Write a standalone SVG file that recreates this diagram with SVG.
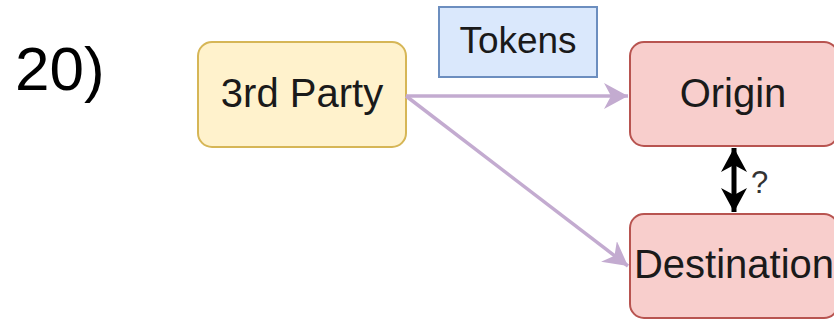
<svg xmlns="http://www.w3.org/2000/svg" width="834" height="320" viewBox="0 0 834 320">
<style>
text{font-family:"Liberation Sans",Arial,sans-serif;fill:#1a1a1a;}
.lbl{font-size:40px;text-anchor:middle;}
.yellow{fill:#fff2cc;stroke:#d6b656;stroke-width:2;}
.red{fill:#f8cecc;stroke:#b85450;stroke-width:2;}
.blue{fill:#dae8fc;stroke:#6c8ebf;stroke-width:2;}
.purple{stroke:#c3abd0;stroke-width:3.5;fill:none;}
</style>
<defs>
<marker id="ap" viewBox="0 0 24 26" refX="24" refY="13" markerWidth="24" markerHeight="26" markerUnits="userSpaceOnUse" orient="auto">
<path d="M0,0 L24,13 L0,26 L7,13 Z" fill="#c3abd0"/>
</marker>
<marker id="ab" viewBox="0 0 24 26" refX="24" refY="13" markerWidth="24" markerHeight="26" markerUnits="userSpaceOnUse" orient="auto-start-reverse">
<path d="M0,0 L24,13 L0,26 L7,13 Z" fill="#000"/>
</marker>
</defs>
<text x="15" y="90" style="font-size:62px;fill:#000">20)</text>
<g id="tokens"><rect class="blue" x="439" y="7" width="158" height="70"/><text class="lbl" x="518" y="53" style="font-size:37px">Tokens</text></g>
<g id="third-party"><rect class="yellow" x="198" y="42" width="208" height="105" rx="14"/><text class="lbl" x="302" y="107">3rd Party</text></g>
<g id="origin"><rect class="red" x="630" y="42" width="208" height="104" rx="14"/><text class="lbl" x="733" y="107">Origin</text></g>
<g id="destination"><rect class="red" x="630" y="214" width="208" height="104" rx="14"/><text class="lbl" x="734" y="278">Destination</text></g>
<g id="connectors">
<line class="purple" x1="406" y1="96" x2="628" y2="96" marker-end="url(#ap)"/>
<line class="purple" x1="406" y1="96" x2="628" y2="266" marker-end="url(#ap)"/>
<line x1="734" y1="148" x2="734" y2="212" stroke="#000" stroke-width="5" marker-start="url(#ab)" marker-end="url(#ab)"/>
<text x="751" y="193" style="font-size:31px;fill:#333">?</text>
</g>
</svg>
